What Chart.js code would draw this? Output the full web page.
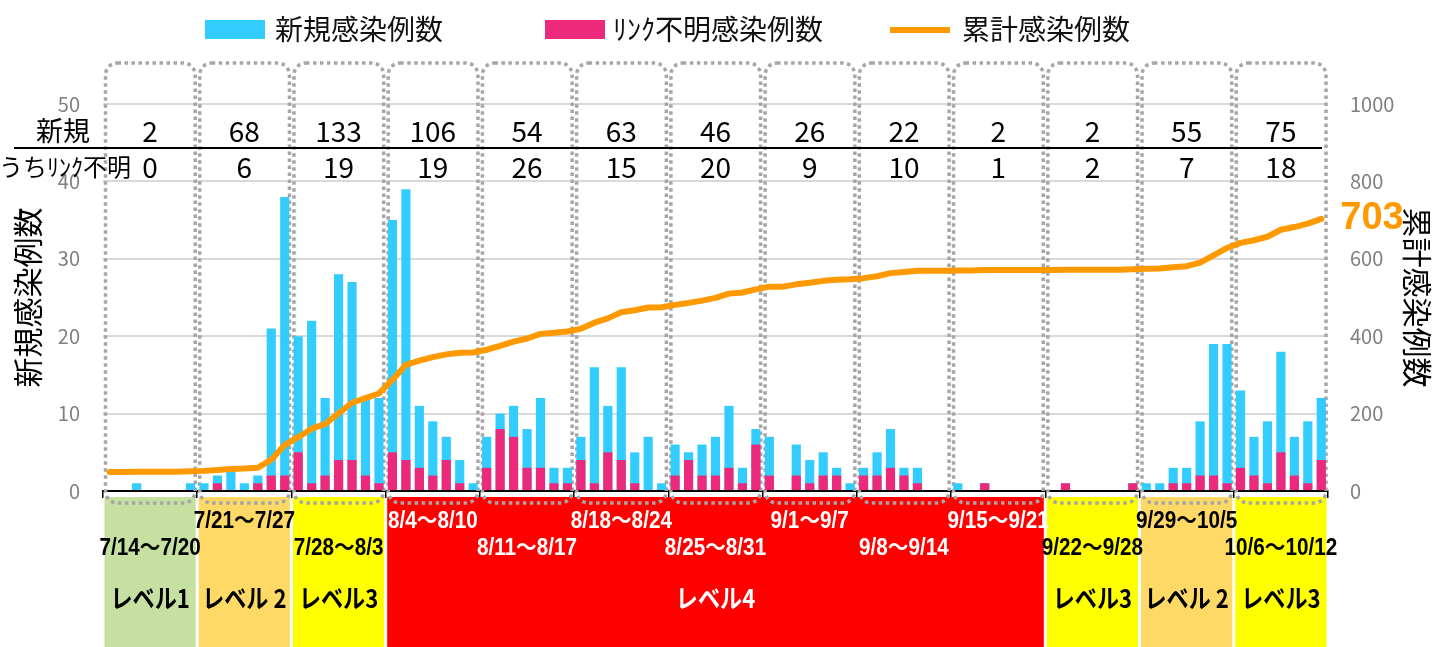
<!DOCTYPE html>
<html><head><meta charset="utf-8">
<script src="https://cdn.jsdelivr.net/npm/chart.js@4.4.1/dist/chart.umd.min.js"></script>
<style>html,body{margin:0;padding:0;background:#fff;}#wrap{width:1435px;height:647px;position:relative;}</style>
</head><body><div id="wrap"><canvas id="c" width="1435" height="647"></canvas></div>
<script>
const categories = ['7/14','7/15','7/16','7/17','7/18','7/19','7/20','7/21','7/22','7/23','7/24','7/25','7/26','7/27','7/28','7/29','7/30','7/31',
'8/1','8/2','8/3','8/4','8/5','8/6','8/7','8/8','8/9','8/10','8/11','8/12','8/13','8/14','8/15','8/16','8/17','8/18','8/19','8/20','8/21','8/22','8/23','8/24','8/25','8/26','8/27','8/28','8/29','8/30','8/31',
'9/1','9/2','9/3','9/4','9/5','9/6','9/7','9/8','9/9','9/10','9/11','9/12','9/13','9/14','9/15','9/16','9/17','9/18','9/19','9/20','9/21','9/22','9/23','9/24','9/25','9/26','9/27','9/28','9/29','9/30',
'10/1','10/2','10/3','10/4','10/5','10/6','10/7','10/8','10/9','10/10','10/11','10/12'];
const newCases = [0,0,1,0,0,0,1, 1,2,3,1,2,21,38, 20,22,12,28,27,12,12, 35,39,11,9,7,4,1, 7,10,11,8,12,3,3, 7,16,11,16,5,7,1, 6,5,6,7,11,3,8, 7,0,6,4,5,3,1, 3,5,8,3,3,0,0, 1,0,1,0,0,0,0, 0,1,0,0,0,0,1, 1,1,3,3,9,19,19, 13,7,9,18,7,9,12];
const unlinkedCases = [0,0,0,0,0,0,0, 0,1,0,0,1,2,2, 5,1,2,4,4,2,1, 5,4,3,2,4,1,0, 3,8,7,3,3,1,1, 4,1,5,4,1,0,0, 2,4,2,2,3,1,6, 2,0,2,1,2,2,0, 2,2,3,2,1,0,0, 0,0,1,0,0,0,0, 0,1,0,0,0,0,1, 0,0,1,1,2,2,1, 3,2,1,5,2,1,4];
const cumulativeCases = [49,49,50,50,50,50,51, 52,54,57,58,60,81,119, 139,161,173,201,228,240,252, 287,326,337,346,353,357,358, 365,375,386,394,406,409,412, 419,435,446,462,467,474,475, 481,486,492,499,510,513,521, 528,528,534,538,543,546,547, 550,555,563,566,569,569,569, 570,570,571,571,571,571,571, 571,572,572,572,572,572,573, 574,575,578,581,590,609,628, 641,648,657,675,682,691,703];
const weekRanges = ['7/14～7/20','7/21～7/27','7/28～8/3','8/4～8/10','8/11～8/17','8/18～8/24','8/25～8/31','9/1～9/7','9/8～9/14','9/15～9/21','9/22～9/28','9/29～10/5','10/6～10/12'];
const weekNew = [2,68,133,106,54,63,46,26,22,2,2,55,75];
const weekUnlinked = [0,6,19,19,26,15,20,9,10,1,2,7,18];
const weekLevels = [1,2,3,4,4,4,4,4,4,4,3,2,3];
const levelNames = {1:'レベル1',2:'レベル 2',3:'レベル3',4:'レベル4'};
const levelColors = {1:'#c5e0a0',2:'#ffd966',3:'#ffff00',4:'#ff0000'};
const seriesNames = ['新規感染例数','ﾘﾝｸ不明感染例数','累計感染例数'];

const JP = '"Noto Sans CJK JP", "Noto Sans", sans-serif';

const overlay = {
  id: 'overlay',
  beforeDatasetsDraw(chart) {
    const {ctx, chartArea: ca, scales: {x}} = chart;
    const weekW = (x.right - x.left) / weekNew.length;
    ctx.save();
    let s = 0;
    for (let k = 1; k <= weekLevels.length; k++) {
      if (k === weekLevels.length || weekLevels[k] !== weekLevels[s]) {
        const l = x.left + s * weekW + 1.5, r = x.left + k * weekW - 1.5;
        ctx.fillStyle = levelColors[weekLevels[s]];
        ctx.fillRect(l, ca.bottom + 6, r - l, 647 - ca.bottom - 6);
        s = k;
      }
    }
    ctx.strokeStyle = '#a6a6a6';
    ctx.lineWidth = 3.5;
    ctx.setLineDash([3.5, 3.5]);
    for (let k = 0; k < weekNew.length; k++) {
      const l = x.left + k * weekW + 2.5, r = x.left + (k + 1) * weekW - 2;
      ctx.beginPath();
      ctx.roundRect(l, 63, r - l, ca.bottom + 12 - 63, 12);
      ctx.stroke();
    }
    ctx.restore();
  },
  afterDraw(chart) {
    const {ctx, chartArea: ca, scales: {x}} = chart;
    const weekW = (x.right - x.left) / weekNew.length;
    ctx.save();
    ctx.textBaseline = 'middle';
    ctx.textAlign = 'left';
    ctx.font = '28px ' + JP;
    ctx.fillStyle = '#33ccff'; ctx.fillRect(205, 20, 60, 19);
    ctx.fillStyle = '#ec297b'; ctx.fillRect(545, 20, 60, 19);
    ctx.strokeStyle = '#ff9900'; ctx.lineWidth = 6;
    ctx.beginPath(); ctx.moveTo(890, 30); ctx.lineTo(950, 30); ctx.stroke();
    ctx.fillStyle = '#111';
    ctx.fillText(seriesNames[0], 275, 29);
    ctx.fillText(seriesNames[1], 613, 29);
    ctx.fillText(seriesNames[2], 962, 29);
    ctx.strokeStyle = '#000'; ctx.lineWidth = 2;
    ctx.beginPath(); ctx.moveTo(14, 148); ctx.lineTo(1322, 148); ctx.stroke();
    ctx.fillStyle = '#000';
    ctx.textAlign = 'right';
    ctx.font = '27px ' + JP;
    ctx.fillText('新規', 90, 131);
    ctx.font = '24px ' + JP;
    ctx.fillText('うちﾘﾝｸ不明', 131, 167);
    ctx.textAlign = 'center';
    ctx.font = '28px ' + JP;
    for (let k = 0; k < weekNew.length; k++) {
      const cx = x.left + (k + 0.5) * weekW;
      ctx.fillText(String(weekNew[k]), cx, 131);
      ctx.fillText(String(weekUnlinked[k]), cx, 167);
    }
    for (let k = 0; k < weekRanges.length; k++) {
      const cx = x.left + (k + 0.5) * weekW;
      const yy = (k % 2 === 1) ? ca.bottom + 31 : ca.bottom + 58;
      ctx.save();
      ctx.translate(cx, yy);
      ctx.scale(0.9, 1);
      ctx.font = 'bold 23px "Liberation Sans", ' + JP;
      ctx.fillStyle = weekLevels[k] === 4 ? '#fff' : '#000';
      ctx.fillText(weekRanges[k], 0, 0);
      ctx.restore();
    }
    let s = 0;
    for (let k = 1; k <= weekLevels.length; k++) {
      if (k === weekLevels.length || weekLevels[k] !== weekLevels[s]) {
        const cx = x.left + (s + k) / 2 * weekW;
        ctx.save();
        ctx.translate(cx, ca.bottom + 107);
        ctx.scale(0.85, 1);
        ctx.font = 'bold 26px ' + JP;
        ctx.fillStyle = weekLevels[s] === 4 ? '#fff' : '#000';
        ctx.fillText(levelNames[weekLevels[s]], 0, 0);
        ctx.restore();
        s = k;
      }
    }
    const meta = chart.getDatasetMeta(2);
    const last = meta.data[meta.data.length - 1];
    ctx.textAlign = 'left';
    ctx.font = 'bold 38px "Liberation Sans", sans-serif';
    ctx.fillStyle = '#ff9900';
    ctx.fillText(String(cumulativeCases[cumulativeCases.length - 1]), last.x + 19, last.y);
    ctx.restore();
  }
};

new Chart(document.getElementById('c'), {
  data: {
    labels: categories,
    datasets: [
      { type: 'bar', label: seriesNames[0], data: newCases, backgroundColor: '#33ccff', order: 2, yAxisID: 'y', barPercentage: 0.68, categoryPercentage: 1.0 },
      { type: 'bar', label: seriesNames[1], data: unlinkedCases, backgroundColor: '#ec297b', order: 1, yAxisID: 'y', barPercentage: 0.68, categoryPercentage: 1.0 },
      { type: 'line', label: seriesNames[2], data: cumulativeCases, borderColor: '#ff9900', borderWidth: 6, pointRadius: 0, tension: 0, order: 0, yAxisID: 'y2', borderJoinStyle: 'round', borderCapStyle: 'round' }
    ]
  },
  options: {
    responsive: false,
    animation: false,
    layout: { padding: { top: 104, bottom: 156, left: 0, right: 0 } },
    plugins: { legend: { display: false }, tooltip: { enabled: false } },
    scales: {
      x: {
        stacked: true, offset: true,
        ticks: { display: false, autoSkip: false },
        grid: { drawOnChartArea: false, drawTicks: true, tickLength: 7, lineWidth: 1.5,
          color: c => (c.type !== 'tick' || c.index % 7 === 0) ? '#000' : 'rgba(0,0,0,0)' },
        border: { display: true, color: '#000', width: 2 },
        afterFit: s => { s.height = 0; }
      },
      y: {
        position: 'left', min: 0, max: 50, stacked: false,
        ticks: { stepSize: 10, color: '#7f7f7f', font: { size: 20, family: JP }, padding: 23, callback: v => String(v) },
        grid: { color: '#d9d9d9', lineWidth: 2, drawTicks: false },
        border: { display: false },
        title: { display: true, text: seriesNames[0], color: '#000', font: { size: 30, family: JP }, padding: { top: 10, bottom: 0 } },
        afterFit: s => { s.width = 103; }
      },
      y2: {
        position: 'right', min: 0, max: 1000,
        ticks: { stepSize: 200, color: '#7f7f7f', font: { size: 20, family: JP }, padding: 22, callback: v => String(v) },
        grid: { display: false, drawTicks: false },
        border: { display: false },
        title: { display: true, text: seriesNames[2], color: '#000', font: { size: 30, family: JP }, padding: { top: 0, bottom: 0 } },
        afterFit: s => { s.width = 107; }
      }
    }
  },
  plugins: [overlay]
});
</script></body></html>
